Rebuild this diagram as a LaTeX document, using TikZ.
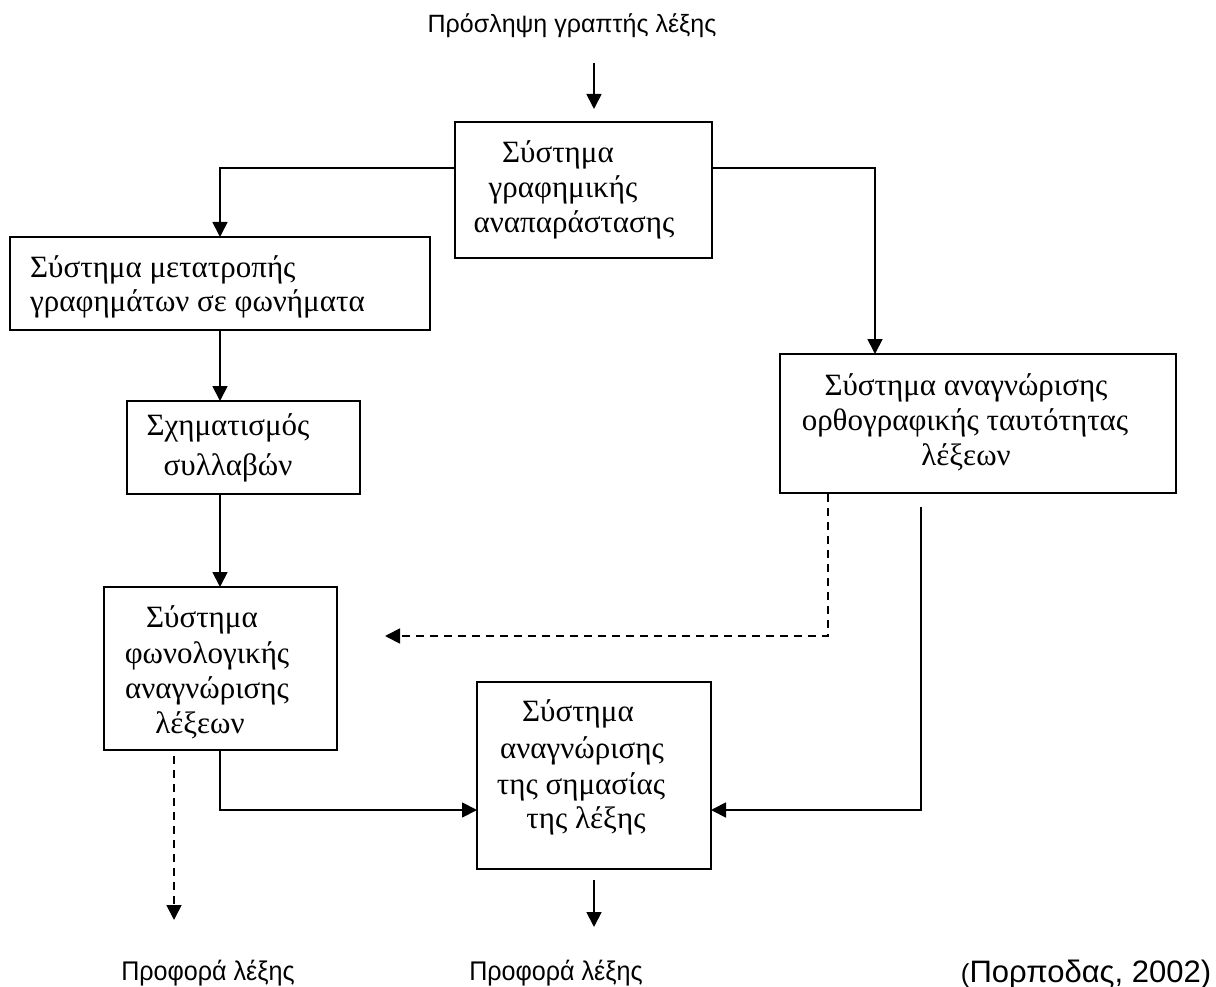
\documentclass[tikz,border=0pt]{standalone}
\usepackage{fontspec}
\setmainfont{Liberation Serif}
\newfontfamily\labelfont{Liberation Sans}
\usetikzlibrary{arrows.meta}

\begin{document}
\begin{tikzpicture}[x=1pt,y=-1pt,
  box/.style={draw, line width=1.9pt, inner sep=0pt, outer sep=0pt, anchor=north west},
  txt/.style={inner sep=0pt, anchor=base, font=\fontsize{31}{36}\selectfont},
  txtl/.style={txt, anchor=base west},
  lbl/.style={inner sep=0pt, anchor=base, font=\labelfont\fontsize{25}{30}\selectfont},
  conn/.style={line width=1.8pt, -{Triangle[length=15pt,width=15pt]}},
  dconn/.style={conn, dash pattern=on 8pt off 6pt}]

% page frame
\useasboundingbox (0,0) rectangle (1216,987);

% boxes
\node[box, minimum width=257pt, minimum height=136pt] (graph) at (455,122) {};
\node[box, minimum width=420pt, minimum height=93pt]  (conv)  at (10,237) {};
\node[box, minimum width=233pt, minimum height=93pt]  (syll)  at (127,401) {};
\node[box, minimum width=396pt, minimum height=139pt] (ortho) at (780,354) {};
\node[box, minimum width=233pt, minimum height=163pt] (phon)  at (104,587) {};
\node[box, minimum width=234pt, minimum height=187pt] (mean)  at (477,682) {};

% box texts
\node[txt] (g1) at (558,163) {Σύστημα};
\node[txt] (g2) at (563,198) {γραφημικής};
\node[txt] (g3) at (574,233) {αναπαράστασης};

\node[txtl] (c1) at (30,278) {Σύστημα μετατροπής};
\node[txtl] (c2) at (30,312) {γραφημάτων σε φωνήματα};

\node[txt] (s1) at (228,435) {Σχηματισμός};
\node[txt] (s2) at (228,475) {συλλαβών};

\node[txt] (o1) at (966,395) {Σύστημα αναγνώρισης};
\node[txt] (o2) at (965,430) {ορθογραφικής ταυτότητας};
\node[txt] (o3) at (966,465) {λέξεων};

\node[txt] (p1) at (202,627) {Σύστημα};
\node[txt] (p2) at (207,663) {φωνολογικής};
\node[txt] (p3) at (207,698) {αναγνώρισης};
\node[txt] (p4) at (200,733) {λέξεων};

\node[txt] (m1) at (578,721) {Σύστημα};
\node[txt] (m2) at (582,758) {αναγνώρισης};
\node[txt] (m3) at (581,794) {της σημασίας};
\node[txt] (m4) at (586,828) {της λέξης};

% outer labels
\node[lbl] (input) at (572,33) {Πρόσληψη γραπτής λέξης};
\node[lbl, font=\labelfont\fontsize{27}{30}\selectfont, xscale=0.93] (out1) at (208,980) {Προφορά λέξης};
\node[lbl, font=\labelfont\fontsize{27}{30}\selectfont, xscale=0.93] (out2) at (556,980) {Προφορά λέξης};
\node[lbl, font=\labelfont\fontsize{31}{36}\selectfont] (cite) at (1086,982)
  {{\fontsize{26}{30}\selectfont(}Πορποδας, 2002)};

% free ends of the connectors
\coordinate (inTop)   at (594,63);
\coordinate (inTip)   at (594,109);
\coordinate (oDashS)  at (828,494);
\coordinate (oDashT)  at (385,636);
\coordinate (oSolidS) at (921,507);
\coordinate (pDashS)  at (174,756);
\coordinate (pDashT)  at (174,920);
\coordinate (mOutS)   at (594,880);
\coordinate (mOutT)   at (594,927);

% connectors
\draw[conn] (inTop) -- (inTip);
\draw[conn] (graph.west |- 0,168) -| (conv.north -| 220,0);
\draw[conn] (graph.east |- 0,168) -| (ortho.north -| 875,0);
\draw[conn] (conv.south -| 220,0) -- (syll.north -| 220,0);
\draw[conn] (syll.south -| 220,0) -- (phon.north -| 220,0);
\draw[dconn] (oDashS) |- (oDashT);
\draw[conn] (oSolidS) |- (mean.east |- 0,810);
\draw[conn] (phon.south -| 220,0) |- (mean.west |- 0,810);
\draw[dconn] (pDashS) -- (pDashT);
\draw[conn] (mOutS) -- (mOutT);

\end{tikzpicture}
\end{document}
